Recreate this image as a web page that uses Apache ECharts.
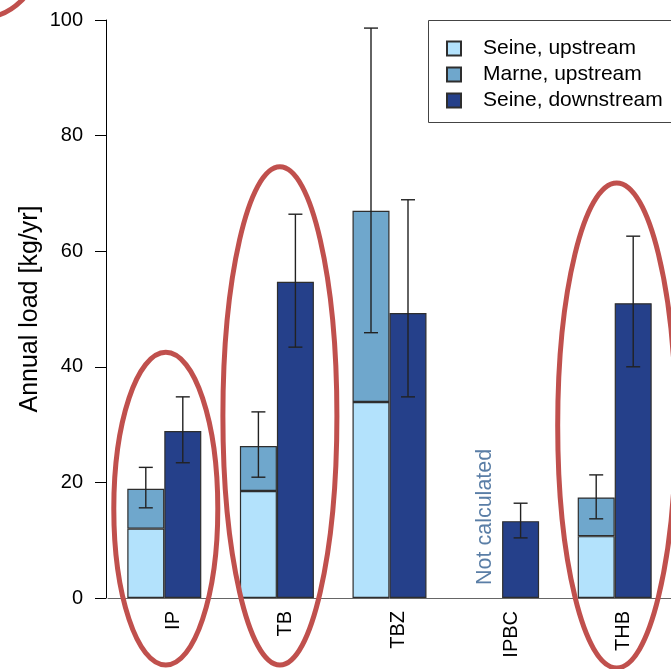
<!DOCTYPE html>
<html>
<head>
<meta charset="utf-8">
<script src="https://cdn.jsdelivr.net/npm/echarts@6/dist/echarts.min.js"></script>
<style>
html,body{margin:0;padding:0;background:#fff;}
#chart{width:671px;height:669px;}
</style>
</head>
<body>
<div id="chart"></div>
<script>
// ---- data ----
const categories = ['IP', 'TB', 'TBZ', 'IPBC', 'THB'];
const seineUp = [12.0, 18.5, 33.9, null, 10.7];
const marneUp = [6.9, 7.8, 33.1, null, 6.7];
const seineDown = [28.9, 54.7, 49.3, 13.3, 51.0];
// error bar ranges [low, high]
const upErrLow = [15.6, 20.9, 45.9, null, 13.7];
const upErrHigh = [22.6, 32.2, 98.6, null, 21.3];
const downErrLow = [23.4, 43.4, 34.8, 10.4, 40.0];
const downErrHigh = [34.8, 66.4, 68.9, 16.4, 62.6];
const yTicks = [0, 20, 40, 60, 80, 100];
const notCalcIndex = 3;
const notCalcText = 'Not calculated';
// highlighted groups (category index, top value, bottom value)
const highlightCats = [0, 1, 4];
const highlightTop = [42.5, 74.6, 71.8];
const highlightBottom = [-11.6, -11.6, -12.1];

const FONT = "'Liberation Sans', Arial, sans-serif";
const BAR_W = 37;
const C_LIGHT = '#b3e2fc', C_MED = '#6fa7cc', C_DARK = '#25408a';
const BORDER = '#2e2e2e';

const chart = echarts.init(document.getElementById('chart'), null, {renderer: 'canvas'});

function errItem(offsetSign) {
  return function (params, api) {
    const cat = api.value(0);
    const lo = api.value(1), hi = api.value(2);
    const pLo = api.coord([cat, lo]);
    const pHi = api.coord([cat, hi]);
    const x = pLo[0] + offsetSign * BAR_W / 2;
    const cap = 7;
    const st = {stroke: '#222', lineWidth: 1.4};
    return {
      type: 'group',
      children: [
        {type: 'line', shape: {x1: x, y1: pLo[1], x2: x, y2: pHi[1]}, style: st},
        {type: 'line', shape: {x1: x - cap, y1: pLo[1], x2: x + cap, y2: pLo[1]}, style: st},
        {type: 'line', shape: {x1: x - cap, y1: pHi[1], x2: x + cap, y2: pHi[1]}, style: st}
      ]
    };
  };
}

const upErrData = categories.map((c, i) => upErrLow[i] == null ? null : [i, upErrLow[i], upErrHigh[i]]).filter(d => d);
const downErrData = categories.map((c, i) => [i, downErrLow[i], downErrHigh[i]]);

const option = {
  animation: false,
  backgroundColor: '#fff',
  textStyle: {fontFamily: FONT},
  grid: {left: 108, right: 0, top: 20, bottom: 71, containLabel: false},
  legend: {
    orient: 'vertical',
    left: 428, top: 20,
    padding: [18, 10, 14, 18],
    itemGap: 5,
    itemWidth: 14, itemHeight: 14,
    borderWidth: 0,
    icon: 'rect',
    textStyle: {fontFamily: FONT, fontSize: 21, color: '#000', padding: [0, 0, 0, 17]},
    data: ['Seine, upstream', 'Marne, upstream', 'Seine, downstream']
  },
  xAxis: {
    type: 'category',
    data: categories,
    axisLine: {show: true, lineStyle: {color: '#666', width: 1}},
    axisTick: {show: false},
    axisLabel: {
      rotate: 90, margin: 13, color: '#000', fontSize: 20, fontFamily: FONT,
      formatter: function (v) { return '{a|' + v + '}'; },
      rich: {a: {fontSize: 20, fontFamily: FONT, color: '#000', padding: [18, 0, 0, 0]}}
    },
    splitLine: {show: false}
  },
  yAxis: {
    type: 'value',
    min: yTicks[0], max: yTicks[yTicks.length - 1], interval: 20,
    offset: 2,
    name: 'Annual load [kg/yr]',
    nameLocation: 'middle',
    nameGap: 63,
    nameMoveOverlap: false,
    nameTextStyle: {fontSize: 25, color: '#000', fontFamily: FONT},
    axisLine: {show: true, lineStyle: {color: '#000', width: 1}},
    axisTick: {show: true, length: 11, inside: false, lineStyle: {color: '#000'}},
    axisLabel: {margin: 23, fontSize: 20, color: '#000', fontFamily: FONT},
    splitLine: {show: false}
  },
  series: [
    {
      name: 'Seine, upstream', type: 'bar', stack: 'up', data: seineUp,
      barWidth: BAR_W, barGap: '0%',
      itemStyle: {color: C_LIGHT, borderColor: BORDER, borderWidth: 1.2}
    },
    {
      name: 'Marne, upstream', type: 'bar', stack: 'up', data: marneUp,
      barWidth: BAR_W, barGap: '0%',
      itemStyle: {color: C_MED, borderColor: BORDER, borderWidth: 1.2}
    },
    {
      name: 'Seine, downstream', type: 'bar', data: seineDown,
      barWidth: BAR_W, barGap: '0%',
      itemStyle: {color: C_DARK, borderColor: BORDER, borderWidth: 1.2}
    },
    {
      type: 'custom', renderItem: errItem(-1), data: upErrData, z: 5,
      encode: {x: 0, y: [1, 2]}, silent: true
    },
    {
      type: 'custom', renderItem: errItem(1), data: downErrData, z: 5,
      encode: {x: 0, y: [1, 2]}, silent: true
    },
    {
      type: 'custom', z: 6, silent: true,
      data: [[notCalcIndex, 0]],
      encode: {x: 0, y: 1},
      renderItem: function (params, api) {
        const p = api.coord([api.value(0), api.value(1)]);
        return {
          type: 'text',
          x: p[0] - BAR_W / 2 + 1,
          y: p[1] - 13,
          rotation: Math.PI / 2,
          style: {
            text: notCalcText, fill: '#5a7ea6',
            font: '21.5px ' + FONT,
            align: 'left', verticalAlign: 'middle'
          }
        };
      }
    }
  ]
};

chart.setOption(option);

// annotation ellipses placed through the chart's own scales
const graphics = highlightCats.map((ci, k) => {
  const top = chart.convertToPixel({xAxisIndex: 0, yAxisIndex: 0}, [ci, highlightTop[k]]);
  const bot = chart.convertToPixel({xAxisIndex: 0, yAxisIndex: 0}, [ci, highlightBottom[k]]);
  const rx = [52, 57, 59][k];
  const dx = [1.5, 3, 2][k];
  return {
    type: 'ellipse',
    shape: {cx: top[0] + dx, cy: (top[1] + bot[1]) / 2, rx: rx, ry: (bot[1] - top[1]) / 2},
    style: {fill: 'none', stroke: '#c0504d', lineWidth: 5},
    z: 100, silent: true
  };
});
graphics.push({
  type: 'circle',
  shape: {cx: -20, cy: -40, r: 58},
  style: {fill: 'none', stroke: '#c0504d', lineWidth: 5},
  z: 100, silent: true
});
// legend frame (runs past the right edge of the canvas, as in the original)
graphics.push({
  type: 'rect',
  shape: {x: 428.5, y: 20.5, width: 300, height: 102},
  style: {fill: 'none', stroke: '#444', lineWidth: 1},
  z: 50, silent: true
});
chart.setOption({graphic: graphics});
</script>
</body>
</html>
